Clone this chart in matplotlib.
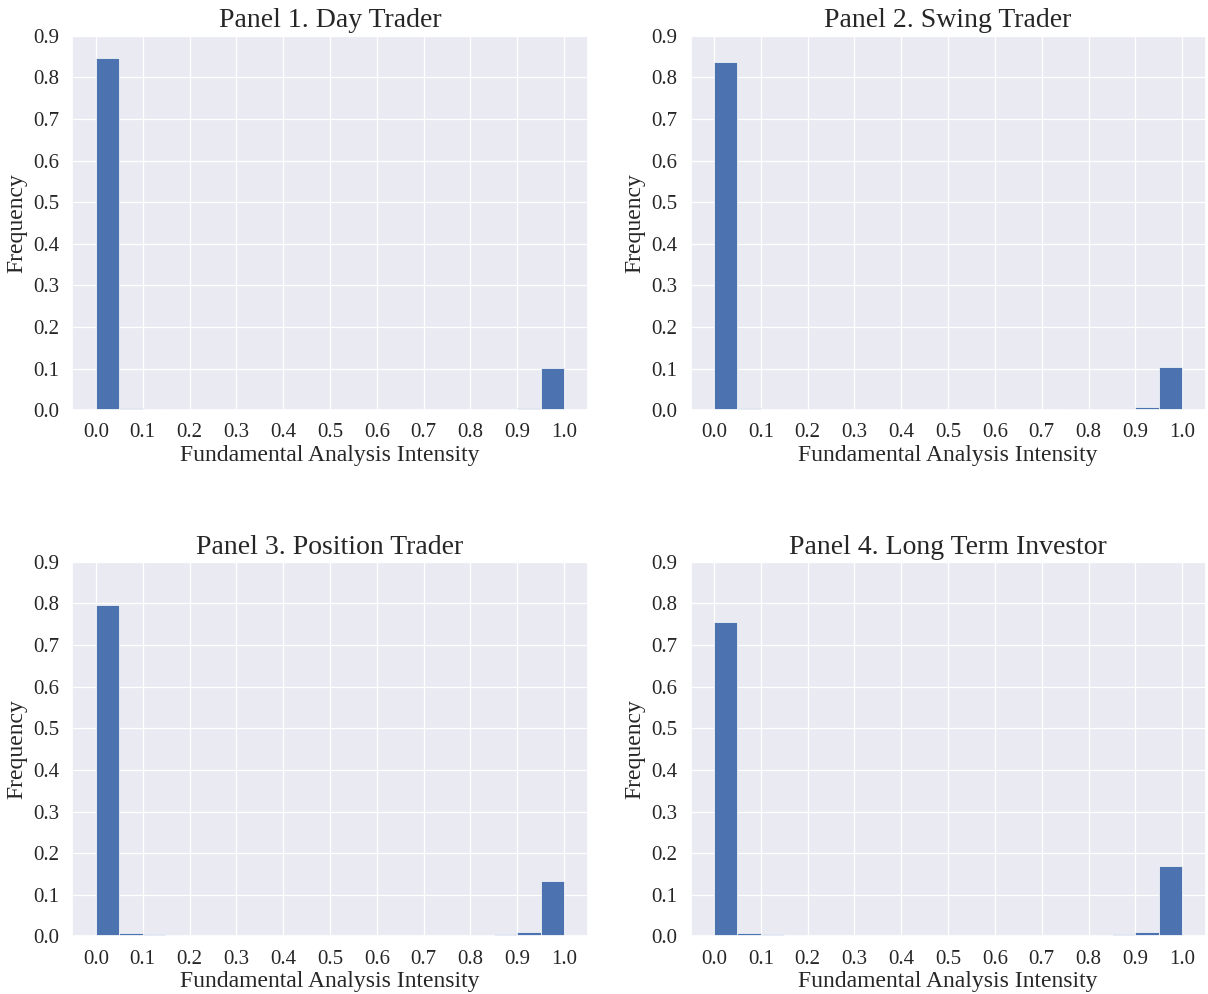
import numpy as np
import matplotlib
matplotlib.use("Agg")
import matplotlib.pyplot as plt
import seaborn as sns

# ── Data (relative frequency per 0.05-wide bin, 0.0 → 1.0) ────────────────────
bin_edges = np.linspace(0.0, 1.0, 21)

titles = ["Panel 1. Day Trader", "Panel 2. Swing Trader",
          "Panel 3. Position Trader", "Panel 4. Long Term Investor"]

day_trader = [0.847, 0.005, 0.003, 0.002, 0.001, 0.001, 0.001, 0.001, 0.001, 0.001,
              0.001, 0.001, 0.001, 0.001, 0.001, 0.001, 0.002, 0.003, 0.006, 0.101]
swing_trader = [0.836, 0.005, 0.003, 0.002, 0.001, 0.001, 0.001, 0.001, 0.001, 0.001,
                0.001, 0.001, 0.001, 0.001, 0.001, 0.002, 0.002, 0.004, 0.007, 0.103]
position_trader = [0.797, 0.008, 0.005, 0.003, 0.002, 0.001, 0.001, 0.001, 0.001, 0.001,
                   0.001, 0.001, 0.001, 0.001, 0.001, 0.002, 0.003, 0.005, 0.010, 0.132]
long_term = [0.755, 0.008, 0.005, 0.003, 0.002, 0.001, 0.001, 0.001, 0.001, 0.001,
             0.001, 0.001, 0.001, 0.001, 0.001, 0.002, 0.003, 0.005, 0.010, 0.168]

series = [day_trader, swing_trader, position_trader, long_term]

# ── Style ─────────────────────────────────────────────────────────────────────
sns.set_theme(style="darkgrid")
plt.rcParams["font.family"] = ["Liberation Serif", "DejaVu Serif"]
plt.rcParams["grid.linewidth"] = 0.9

fig, axes = plt.subplots(2, 2, figsize=(12.08, 9.94), dpi=100)
fig.subplots_adjust(left=0.06, right=0.998, top=0.964, bottom=0.058,
                    wspace=0.2, hspace=0.405)

for ax, title, vals in zip(axes.flat, titles, series):
    ax.bar(bin_edges[:-1], vals, width=0.05, align="edge",
           color="#4c72b0", edgecolor="white", linewidth=0.5)
    ax.set_xlim(-0.05, 1.05)
    ax.set_ylim(0, 0.9)
    ax.set_xticks(np.arange(0, 1.01, 0.1))
    ax.set_yticks(np.arange(0, 0.91, 0.1))
    ax.set_xticklabels([f"{t:.1f}" for t in np.arange(0, 1.01, 0.1)])
    ax.set_yticklabels([f"{t:.1f}" for t in np.arange(0, 0.91, 0.1)])
    ax.tick_params(labelsize=15)
    ax.set_title(title, fontsize=20)
    ax.set_xlabel("Fundamental Analysis Intensity", fontsize=17, labelpad=2)
    ax.set_ylabel("Frequency", fontsize=17)

plt.savefig("out.png", dpi=100)
